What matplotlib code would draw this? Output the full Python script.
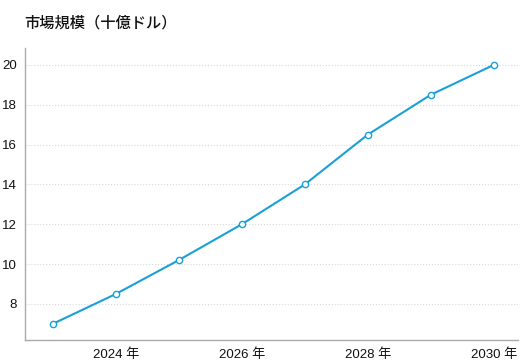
import matplotlib
matplotlib.use('Agg')
import matplotlib.pyplot as plt

plt.rcParams['font.family'] = ['Liberation Sans', 'Noto Sans CJK JP', 'DejaVu Sans']

years = [2023, 2024, 2025, 2026, 2027, 2028, 2029, 2030]
market = [7.0, 8.5, 10.2, 12.0, 14.0, 16.5, 18.5, 20.0]
x_ticks = [2024, 2026, 2028, 2030]
x_labels = ['2024 年', '2026 年', '2028 年', '2030 年']
y_ticks = [8, 10, 12, 14, 16, 18, 20]

fig = plt.figure(figsize=(5.21, 3.6), dpi=100)
ax = fig.add_axes([0.048, 0.056, 0.946, 0.811])

ax.plot(years, market, color='#1aa0d8', linewidth=1.5, marker='o',
        markersize=4.5, markerfacecolor='white', markeredgecolor='#1aa0d8',
        markeredgewidth=1.0, zorder=3)

ax.set_xlim(2022.56, 2030.38)
ax.set_ylim(6.2, 20.85)
ax.set_xticks(x_ticks)
ax.set_xticklabels(x_labels)
ax.set_yticks(y_ticks)
ax.tick_params(length=0, labelsize=9.5, colors='#111111', pad=6)

ax.grid(axis='y', linestyle=':', color='#d8d8d8', linewidth=0.8)
ax.set_axisbelow(True)
for s in ['top', 'right']:
    ax.spines[s].set_visible(False)
for s in ['left', 'bottom']:
    ax.spines[s].set_color('#aaaaaa')
    ax.spines[s].set_linewidth(1.0)

fig.text(0.046, 0.935, '市場規模（十億ドル）', fontsize=11, color='#111111',
         ha='left', va='center', family=['Noto Sans CJK JP', 'DejaVu Sans'],
         fontweight='medium')

fig.savefig('out.png', dpi=100)
